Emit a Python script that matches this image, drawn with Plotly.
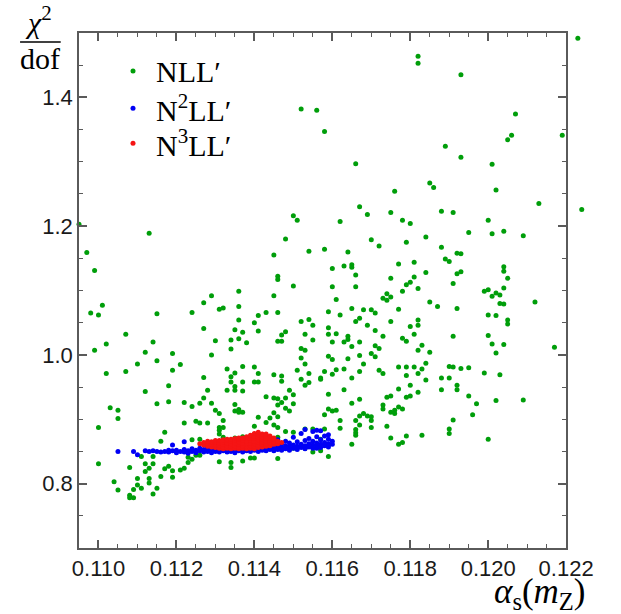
import plotly.graph_objects as go

# alpha_s(m_Z), chi^2/dof pairs for each perturbative order
nll_points = [
    (0.1223, 1.492), (0.1182, 1.464), (0.1182, 1.453), (0.1193, 1.435), (0.1152, 1.382), (0.1156, 1.380),
    (0.1158, 1.347), (0.1207, 1.374), (0.1206, 1.341), (0.1205, 1.334), (0.1219, 1.341), (0.1189, 1.324),
    (0.1193, 1.307), (0.1166, 1.297), (0.1201, 1.296), (0.1176, 1.254), (0.1185, 1.267), (0.1186, 1.260),
    (0.1202, 1.256), (0.1213, 1.235), (0.1224, 1.226), (0.1167, 1.230), (0.1169, 1.218), (0.1175, 1.221),
    (0.1188, 1.223), (0.1191, 1.221), (0.1162, 1.207), (0.1178, 1.209), (0.1180, 1.204), (0.1200, 1.209),
    (0.1195, 1.190), (0.1201, 1.188), (0.1204, 1.192), (0.1209, 1.185), (0.1170, 1.179), (0.1184, 1.183),
    (0.1172, 1.169), (0.1179, 1.175), (0.1188, 1.167), (0.1158, 1.164), (0.1164, 1.160), (0.1192, 1.158),
    (0.1193, 1.157), (0.1189, 1.149), (0.1190, 1.145), (0.1181, 1.144), (0.1177, 1.141), (0.1163, 1.138),
    (0.1165, 1.140), (0.1165, 1.136), (0.1160, 1.134), (0.1204, 1.137), (0.1204, 1.130), (0.1184, 1.128),
    (0.1192, 1.126), (0.1193, 1.129), (0.1166, 1.124), (0.1175, 1.119), (0.1181, 1.121), (0.1205, 1.119),
    (0.1160, 1.106), (0.1166, 1.106), (0.1180, 1.113), (0.1179, 1.109), (0.1191, 1.111), (0.1182, 1.103),
    (0.1178, 1.099), (0.1174, 1.095), (0.1175, 1.090), (0.1173, 1.088), (0.1174, 1.085), (0.1199, 1.099),
    (0.1200, 1.101), (0.1204, 1.104), (0.1201, 1.091), (0.1202, 1.096), (0.1203, 1.093), (0.1161, 1.086),
    (0.1185, 1.082), (0.1187, 1.075), (0.1203, 1.080), (0.1204, 1.079), (0.1212, 1.082), (0.1159, 1.067),
    (0.1165, 1.072), (0.1168, 1.070), (0.1170, 1.070), (0.1171, 1.065), (0.1177, 1.071), (0.1192, 1.072),
    (0.1162, 1.062), (0.1167, 1.057), (0.1166, 1.052), (0.1200, 1.062), (0.1202, 1.061), (0.1175, 1.052),
    (0.1182, 1.054), (0.1205, 1.054), (0.1205, 1.048), (0.1169, 1.046), (0.1180, 1.044), (0.1182, 1.046),
    (0.1159, 1.042), (0.1171, 1.038), (0.1159, 1.032), (0.1161, 1.033), (0.1164, 1.029), (0.1173, 1.029),
    (0.1181, 1.032), (0.1191, 1.029), (0.1200, 1.030), (0.1164, 1.024), (0.1163, 1.020), (0.1178, 1.026),
    (0.1179, 1.021), (0.1160, 1.020), (0.1167, 1.020), (0.1165, 1.013), (0.1171, 1.014), (0.1172, 1.010),
    (0.1183, 1.015), (0.1201, 1.017), (0.1204, 1.016), (0.1217, 1.012), (0.1182, 1.007), (0.1170, 1.002),
    (0.1185, 1.004), (0.1202, 1.003), (0.1159, 0.998), (0.1160, 0.993), (0.1167, 0.999), (0.1164, 0.994),
    (0.1171, 0.997), (0.1168, 0.986), (0.1184, 0.987), (0.1177, 0.981), (0.1179, 0.981), (0.1181, 0.981),
    (0.1183, 0.978), (0.1190, 0.982), (0.1191, 0.981), (0.1193, 0.979), (0.1195, 0.980), (0.1158, 0.974),
    (0.1161, 0.977), (0.1163, 0.978), (0.1167, 0.974), (0.1172, 0.976), (0.1173, 0.971), (0.1179, 0.968),
    (0.1182, 0.971), (0.1199, 0.972), (0.1203, 0.969), (0.1157, 0.964), (0.1165, 0.964), (0.1188, 0.964),
    (0.1190, 0.964), (0.1160, 0.970), (0.1184, 0.961),
    (0.1095, 1.203), (0.1097, 1.159), (0.1099, 1.131), (0.1098, 1.065), (0.1100, 1.062), (0.1101, 1.077),
    (0.1099, 1.007), (0.1102, 1.017), (0.1102, 0.971), (0.1107, 1.032), (0.1107, 0.974), (0.1110, 0.986),
    (0.1112, 1.004), (0.1113, 1.189), (0.1114, 1.020), (0.1115, 1.064), (0.1115, 0.991), (0.1119, 1.002),
    (0.1119, 0.976), (0.1121, 0.985), (0.1124, 1.066), (0.1127, 1.081), (0.1127, 1.041), (0.1127, 0.965),
    (0.1129, 1.092), (0.1129, 1.000), (0.1130, 1.022), (0.1131, 1.071), (0.1132, 1.073), (0.1133, 0.978),
    (0.1134, 1.023), (0.1134, 1.009), (0.1135, 0.972), (0.1135, 1.039), (0.1136, 1.099), (0.1136, 1.075),
    (0.1136, 1.054), (0.1136, 1.025), (0.1137, 1.035), (0.1137, 0.982), (0.1138, 1.019), (0.1140, 1.050),
    (0.1140, 0.981), (0.1141, 1.061), (0.1141, 1.037), (0.1141, 0.971), (0.1143, 1.066), (0.1145, 1.155),
    (0.1145, 1.092), (0.1145, 0.969), (0.1146, 1.122), (0.1146, 1.117), (0.1146, 1.066), (0.1146, 1.021),
    (0.1147, 1.021), (0.1147, 1.031), (0.1147, 0.967), (0.1148, 1.180), (0.1148, 1.036), (0.1150, 1.216),
    (0.1151, 1.209), (0.1150, 1.107), (0.1152, 1.052), (0.1152, 1.010), (0.1152, 0.995), (0.1153, 1.032),
    (0.1153, 1.007), (0.1153, 0.986), (0.1154, 1.161), (0.1154, 1.055), (0.1154, 0.971), (0.1155, 1.046),
    (0.1155, 1.023), (0.1151, 0.976),
    (0.1112, 0.943), (0.1103, 0.918), (0.1105, 0.914), (0.1105, 0.901), (0.1100, 0.887), (0.1100, 0.831),
    (0.1104, 0.803), (0.1105, 0.790), (0.1108, 0.825), (0.1108, 0.782), (0.1108, 0.778), (0.1109, 0.778),
    (0.1109, 0.791), (0.1110, 0.798), (0.1110, 0.808), (0.1111, 0.793), (0.1111, 0.842), (0.1112, 0.831),
    (0.1112, 0.819), (0.1113, 0.824), (0.1113, 0.808), (0.1113, 0.801), (0.1114, 0.784), (0.1114, 0.842),
    (0.1114, 0.831), (0.1115, 0.793), (0.1116, 0.811), (0.1116, 0.866), (0.1117, 0.880), (0.1117, 0.823),
    (0.1118, 0.827), (0.1119, 0.820), (0.1119, 0.810), (0.1121, 0.821), (0.1122, 0.824), (0.1123, 0.833),
    (0.1123, 0.841), (0.1124, 0.838), (0.1125, 0.844), (0.1126, 0.844), (0.1131, 0.834), (0.1134, 0.833),
    (0.1134, 0.825), (0.1137, 0.835), (0.1139, 0.840), (0.1140, 0.840), (0.1146, 0.839),
    (0.1118, 0.952), (0.1115, 0.924), (0.1118, 0.927), (0.1122, 0.926), (0.1124, 0.920), (0.1126, 0.925),
    (0.1127, 0.933), (0.1128, 0.945), (0.1129, 0.925), (0.1130, 0.914), (0.1131, 0.909), (0.1122, 0.894),
    (0.1125, 0.897), (0.1126, 0.894), (0.1128, 0.894), (0.1132, 0.898), (0.1131, 0.887), (0.1131, 0.883),
    (0.1132, 0.887), (0.1131, 0.877), (0.1132, 0.872), (0.1124, 0.868), (0.1126, 0.869),
    (0.1134, 0.966), (0.1134, 0.958), (0.1137, 0.958), (0.1135, 0.951), (0.1147, 0.959), (0.1152, 0.962),
    (0.1153, 0.953), (0.1154, 0.957), (0.1157, 0.962), (0.1141, 0.958), (0.1140, 0.958), (0.1133, 0.945),
    (0.1135, 0.945), (0.1137, 0.944), (0.1143, 0.935), (0.1145, 0.933), (0.1146, 0.932), (0.1147, 0.926),
    (0.1148, 0.933), (0.1149, 0.945), (0.1150, 0.938), (0.1146, 0.922), (0.1148, 0.917), (0.1150, 0.924),
    (0.1149, 0.913), (0.1159, 0.939), (0.1135, 0.923), (0.1136, 0.915), (0.1136, 0.911), (0.1137, 0.911),
    (0.1135, 0.913), (0.1141, 0.903), (0.1145, 0.910), (0.1146, 0.904), (0.1144, 0.902), (0.1140, 0.889),
    (0.1143, 0.895), (0.1145, 0.891), (0.1146, 0.887), (0.1148, 0.881), (0.1150, 0.880), (0.1153, 0.885),
    (0.1155, 0.885), (0.1159, 0.916), (0.1160, 0.913), (0.1158, 0.885), (0.1157, 0.869), (0.1159, 0.860),
    (0.1159, 0.842), (0.1155, 0.849), (0.1153, 0.855), (0.1150, 0.855), (0.1146, 0.872), (0.1145, 0.870),
    (0.1141, 0.873), (0.1137, 0.873), (0.1135, 0.871), (0.1157, 0.851), (0.1158, 0.907),
    (0.1163, 0.946), (0.1177, 0.947), (0.1180, 0.953), (0.1182, 0.942), (0.1179, 0.934), (0.1180, 0.936),
    (0.1174, 0.934), (0.1175, 0.936), (0.1173, 0.922), (0.1173, 0.916), (0.1175, 0.911), (0.1176, 0.914),
    (0.1176, 0.909), (0.1177, 0.919), (0.1178, 0.916), (0.1167, 0.931), (0.1165, 0.925), (0.1161, 0.914),
    (0.1195, 0.936), (0.1197, 0.924), (0.1202, 0.929), (0.1209, 0.930), (0.1162, 0.898), (0.1162, 0.886),
    (0.1166, 0.898), (0.1167, 0.905), (0.1168, 0.909), (0.1169, 0.905), (0.1170, 0.904), (0.1170, 0.898),
    (0.1167, 0.891), (0.1166, 0.884), (0.1166, 0.879), (0.1166, 0.875), (0.1170, 0.887), (0.1174, 0.889),
    (0.1175, 0.871), (0.1177, 0.861), (0.1178, 0.864), (0.1179, 0.874), (0.1183, 0.875), (0.1190, 0.885),
    (0.1190, 0.878), (0.1191, 0.899), (0.1196, 0.907), (0.1200, 0.869), (0.1165, 0.861), (0.1188, 0.946),
    (0.1192, 0.953), (0.1192, 0.946),
]

n2ll_points = [
    (0.1105, 0.850), (0.1109, 0.850), (0.1110, 0.845), (0.1112, 0.851), (0.1113, 0.850), (0.1114, 0.851),
    (0.1115, 0.850), (0.1116, 0.849), (0.1117, 0.850), (0.1118, 0.849), (0.1118, 0.852), (0.1119, 0.851),
    (0.1119, 0.860), (0.1120, 0.848), (0.1120, 0.852), (0.1121, 0.850), (0.1122, 0.849), (0.1122, 0.853),
    (0.1122, 0.865), (0.1123, 0.851), (0.1123, 0.847), (0.1124, 0.850), (0.1124, 0.854), (0.1125, 0.848),
    (0.1125, 0.852), (0.1126, 0.851), (0.1126, 0.855), (0.1127, 0.849), (0.1127, 0.853), (0.1128, 0.850),
    (0.1128, 0.854), (0.1128, 0.857), (0.1129, 0.848), (0.1129, 0.852), (0.1129, 0.856), (0.1130, 0.850),
    (0.1130, 0.854), (0.1131, 0.849), (0.1131, 0.852), (0.1131, 0.856), (0.1132, 0.851), (0.1132, 0.855),
    (0.1133, 0.849), (0.1133, 0.853), (0.1133, 0.857), (0.1134, 0.850), (0.1134, 0.854), (0.1135, 0.848),
    (0.1135, 0.852), (0.1135, 0.856), (0.1136, 0.851), (0.1136, 0.855), (0.1137, 0.849), (0.1137, 0.853),
    (0.1137, 0.858), (0.1138, 0.851), (0.1138, 0.855), (0.1139, 0.850), (0.1139, 0.854), (0.1139, 0.858),
    (0.1140, 0.852), (0.1140, 0.856), (0.1141, 0.850), (0.1141, 0.854), (0.1141, 0.859), (0.1142, 0.852),
    (0.1142, 0.857), (0.1143, 0.851), (0.1143, 0.855), (0.1143, 0.860), (0.1144, 0.853), (0.1144, 0.857),
    (0.1145, 0.851), (0.1145, 0.855), (0.1145, 0.861), (0.1146, 0.853), (0.1146, 0.858), (0.1146, 0.868),
    (0.1147, 0.852), (0.1147, 0.856), (0.1147, 0.862), (0.1148, 0.854), (0.1148, 0.859), (0.1148, 0.866),
    (0.1149, 0.852), (0.1149, 0.857), (0.1149, 0.863), (0.1150, 0.855), (0.1150, 0.860), (0.1150, 0.872),
    (0.1151, 0.853), (0.1151, 0.858), (0.1151, 0.865), (0.1152, 0.856), (0.1152, 0.861), (0.1152, 0.878),
    (0.1153, 0.854), (0.1153, 0.859), (0.1153, 0.867), (0.1153, 0.884), (0.1154, 0.857), (0.1154, 0.862),
    (0.1154, 0.870), (0.1155, 0.855), (0.1155, 0.860), (0.1155, 0.866), (0.1155, 0.881), (0.1156, 0.858),
    (0.1156, 0.863), (0.1156, 0.873), (0.1156, 0.883), (0.1156, 0.855), (0.1157, 0.856), (0.1157, 0.861),
    (0.1157, 0.868), (0.1157, 0.882), (0.1158, 0.859), (0.1158, 0.864), (0.1158, 0.874), (0.1159, 0.857),
    (0.1159, 0.862), (0.1159, 0.869), (0.1159, 0.876), (0.1160, 0.861), (0.1160, 0.866),
]

n3ll_points = [
    (0.1126, 0.862), (0.1127, 0.860), (0.1127, 0.864), (0.1128, 0.858), (0.1128, 0.862), (0.1128, 0.866),
    (0.1129, 0.857), (0.1129, 0.861), (0.1129, 0.865), (0.1130, 0.856), (0.1130, 0.860), (0.1130, 0.864),
    (0.1130, 0.867), (0.1131, 0.855), (0.1131, 0.859), (0.1131, 0.863), (0.1131, 0.867), (0.1132, 0.854),
    (0.1132, 0.857), (0.1132, 0.861), (0.1132, 0.865), (0.1132, 0.868), (0.1133, 0.855), (0.1133, 0.859),
    (0.1133, 0.863), (0.1133, 0.867), (0.1133, 0.869), (0.1134, 0.854), (0.1134, 0.858), (0.1134, 0.862),
    (0.1134, 0.866), (0.1134, 0.869), (0.1135, 0.855), (0.1135, 0.859), (0.1135, 0.863), (0.1135, 0.867),
    (0.1135, 0.870), (0.1136, 0.854), (0.1136, 0.857), (0.1136, 0.861), (0.1136, 0.865), (0.1136, 0.869),
    (0.1136, 0.871), (0.1137, 0.855), (0.1137, 0.859), (0.1137, 0.863), (0.1137, 0.867), (0.1137, 0.871),
    (0.1138, 0.854), (0.1138, 0.858), (0.1138, 0.862), (0.1138, 0.866), (0.1138, 0.870), (0.1138, 0.873),
    (0.1139, 0.855), (0.1139, 0.859), (0.1139, 0.863), (0.1139, 0.867), (0.1139, 0.871), (0.1139, 0.875),
    (0.1140, 0.854), (0.1140, 0.858), (0.1140, 0.862), (0.1140, 0.866), (0.1140, 0.870), (0.1140, 0.874),
    (0.1140, 0.878), (0.1141, 0.856), (0.1141, 0.860), (0.1141, 0.864), (0.1141, 0.868), (0.1141, 0.872),
    (0.1141, 0.876), (0.1141, 0.880), (0.1142, 0.857), (0.1142, 0.861), (0.1142, 0.865), (0.1142, 0.869),
    (0.1142, 0.873), (0.1142, 0.877), (0.1143, 0.858), (0.1143, 0.862), (0.1143, 0.866), (0.1143, 0.870),
    (0.1143, 0.874), (0.1143, 0.877), (0.1144, 0.859), (0.1144, 0.863), (0.1144, 0.867), (0.1144, 0.871),
    (0.1144, 0.874), (0.1145, 0.861), (0.1145, 0.865), (0.1145, 0.869), (0.1145, 0.871), (0.1146, 0.862),
    (0.1146, 0.866), (0.1147, 0.864),
]

x_ticks = [0.110, 0.112, 0.114, 0.116, 0.118, 0.120, 0.122]
x_tick_labels = ["0.110", "0.112", "0.114", "0.116", "0.118", "0.120", "0.122"]
y_ticks = [0.8, 1.0, 1.2, 1.4]
y_tick_labels = ["0.8", "1.0", "1.2", "1.4"]

series = [
    ("NLL\u2032", nll_points, "rgb(0,158,10)"),
    ("N<sup>2</sup>LL\u2032", n2ll_points, "rgb(0,0,245)"),
    ("N<sup>3</sup>LL\u2032", n3ll_points, "rgb(245,20,20)"),
]

SERIF = "Liberation Serif, Times New Roman, serif"
SANS = "Liberation Sans, Arial, sans-serif"
FRAME = "#5a5a5a"

# The framed axis spans alpha_s in [0.1095, 0.122]; the marker layer uses a wider
# x axis with the same scale so that a few fits beyond 0.122 stay visible.
X_LO, X_HI = 0.1095, 0.122
FRAME_FRAC = 514 / 536
X_DATA_HI = X_LO + (X_HI - X_LO) / FRAME_FRAC

fig = go.Figure()
for name, pts, color in series:
    fig.add_trace(go.Scatter(
        x=[p[0] for p in pts], y=[p[1] for p in pts],
        mode="markers", name=name, cliponaxis=False, showlegend=False,
        xaxis="x", yaxis="y",
        marker=dict(size=5, color=color, line=dict(width=0)),
    ))
fig.add_trace(go.Scatter(x=[], y=[], xaxis="x2", yaxis="y", showlegend=False, hoverinfo="skip"))

# key in the upper left: one dot per series followed by its label
key_x_dot, key_x_text = 0.1063, 0.1476
key_rows = [0.926, 0.854, 0.786]
fig.add_trace(go.Scatter(
    x=[key_x_dot] * len(series), y=key_rows, xaxis="x3", yaxis="y3",
    mode="markers", showlegend=False, hoverinfo="skip", cliponaxis=False,
    marker=dict(size=5, color=[s[2] for s in series], line=dict(width=0)),
))
for (name, _, _), yk in zip(series, key_rows):
    fig.add_annotation(text=name, xref="paper", yref="paper", x=key_x_text, y=yk,
                       xanchor="left", yanchor="middle", showarrow=False,
                       font=dict(family=SERIF, size=30, color="black"))

tick_font = dict(family=SANS, size=22, color="#1a1a1a")
frame_common = dict(
    showline=True, linecolor=FRAME, linewidth=1.5, mirror="ticks",
    ticks="inside", ticklen=8, tickwidth=1.5, tickcolor=FRAME,
    showgrid=False, zeroline=False, tickfont=tick_font,
)

fig.update_layout(
    xaxis=dict(domain=[0, 1], range=[X_LO, X_DATA_HI], visible=False,
               showgrid=False, zeroline=False),
    xaxis2=dict(domain=[0, FRAME_FRAC], range=[X_LO, X_HI], anchor="y",
                tickvals=x_ticks, ticktext=x_tick_labels,
                minor=dict(dtick=0.0005, tick0=0.11, ticks="inside", ticklen=4,
                           tickwidth=1.2, tickcolor=FRAME),
                **frame_common),
    yaxis=dict(domain=[0, 1], range=[0.7, 1.5], anchor="x2",
               tickvals=y_ticks, ticktext=y_tick_labels,
               minor=dict(dtick=0.05, tick0=0.7, ticks="inside", ticklen=4,
                          tickwidth=1.2, tickcolor=FRAME),
               **frame_common),
    xaxis3=dict(domain=[0, 1], range=[0, 1], visible=False, anchor="y3"),
    yaxis3=dict(domain=[0, 1], range=[0, 1], visible=False, anchor="x3"),
)

# axis titles: chi^2 over dof at the top left, alpha_s(m_Z) below the right end
fig.add_annotation(text="<i>\u03c7</i><sup>2</sup>", xref="paper", yref="paper",
                   x=-0.079, y=1.025, showarrow=False, xanchor="center", yanchor="middle",
                   font=dict(family=SERIF, size=30, color="black"))
fig.add_shape(type="line", xref="paper", yref="paper", x0=-0.116, x1=-0.036,
              y0=0.9825, y1=0.9825, line=dict(color="black", width=1.5))
fig.add_annotation(text="dof", xref="paper", yref="paper",
                   x=-0.077, y=0.950, showarrow=False, xanchor="center", yanchor="middle",
                   font=dict(family=SERIF, size=30, color="black"))
fig.add_annotation(text="<i>\u03b1</i><sub>s</sub>(<i>m</i><sub>Z</sub>)", xref="paper", yref="paper",
                   x=1.0, y=-0.089, showarrow=False, xanchor="right", yanchor="middle",
                   font=dict(family=SERIF, size=35, color="black"))

fig.update_layout(
    width=621, height=614,
    margin=dict(l=79, r=6, t=33, b=66),
    paper_bgcolor="white", plot_bgcolor="rgba(0,0,0,0)",
    showlegend=False,
)

fig.write_html("out.html")
